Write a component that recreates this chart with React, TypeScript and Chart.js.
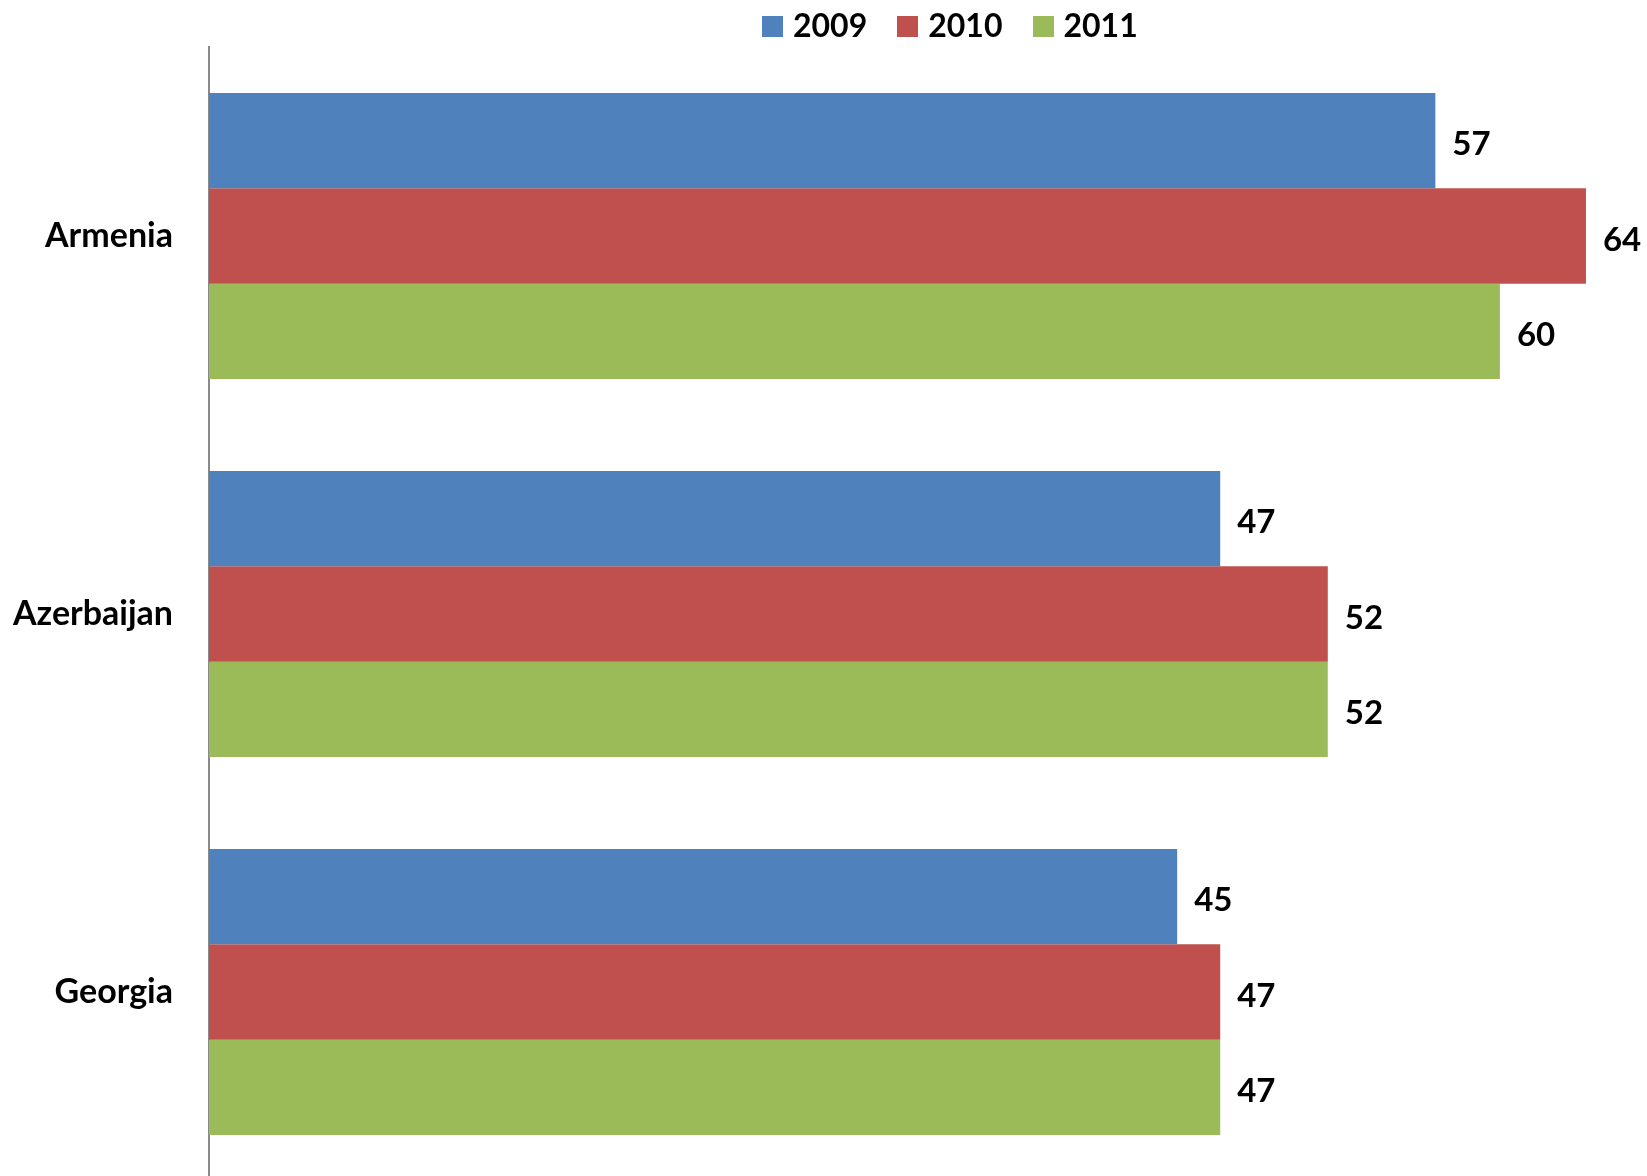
import React, { useEffect, useRef } from "react";
import { Chart, registerables } from "chart.js";

Chart.register(...registerables);

const categories = ["Armenia", "Azerbaijan", "Georgia"];
const seriesLabels = ["2009", "2010", "2011"];
const values2009 = [57, 47, 45];
const values2010 = [64, 52, 47];
const values2011 = [60, 52, 47];
const seriesColors = ["#4F81BD", "#C0504D", "#9BBB59"];
const xMin = 0;
const xMax = 66;

const FONT = "Lato, 'Open Sans', sans-serif";

const valueLabels = {
  id: "valueLabels",
  afterDraw(chart: any) {
    const ctx = chart.ctx;
    ctx.save();
    ctx.font = `bold 33px ${FONT}`;
    ctx.fillStyle = "#000";
    ctx.textAlign = "left";
    ctx.textBaseline = "middle";
    chart.data.datasets.forEach((ds: any, i: number) => {
      const meta = chart.getDatasetMeta(i);
      meta.data.forEach((el: any, j: number) => {
        ctx.fillText(String(ds.data[j]), el.x + 17, el.y + 4);
      });
    });
    ctx.restore();
  },
};

export default function App() {
  const canvasRef = useRef<HTMLCanvasElement | null>(null);

  useEffect(() => {
    let chart: Chart | null = null;
    let cancelled = false;
    const make = () => {
      if (cancelled || !canvasRef.current) return;
      chart = new Chart(canvasRef.current, {
        type: "bar",
        data: {
          labels: categories,
          datasets: [values2009, values2010, values2011].map((d, i) => ({
            label: seriesLabels[i],
            data: d,
            backgroundColor: seriesColors[i],
            borderWidth: 0,
            categoryPercentage: 0.756,
            barPercentage: 1,
          })),
        },
        options: {
          indexAxis: "y",
          responsive: false,
          animation: false,
          layout: { padding: { top: 47, right: 18, bottom: 0, left: 0 } },
          plugins: {
            legend: { display: false },
            tooltip: { enabled: false },
          },
          scales: {
            x: { type: "linear", min: xMin, max: xMax, display: false },
            y: {
              type: "category",
              z: 1,
              grid: { display: false, drawTicks: false },
              border: { display: true, color: "#8a8a8a", width: 2 },
              ticks: {
                color: "#000",
                padding: 36,
                font: { family: FONT, size: 34, weight: "bold" },
              },
              afterFit: (scale: any) => {
                scale.width = 209;
                scale.paddingTop = 0;
                scale.paddingBottom = 0;
              },
            },
          },
        },
        plugins: [valueLabels],
      } as any);
    };
    const fonts: any = (document as any).fonts;
    if (fonts && fonts.load) {
      Promise.all([fonts.load(`bold 32px Lato`), fonts.load(`bold 34px Lato`)]).then(make, make);
    } else {
      make();
    }
    return () => {
      cancelled = true;
      if (chart) chart.destroy();
    };
  }, []);

  return (
    <div
      style={{
        position: "fixed",
        left: 0,
        top: 0,
        width: 1647,
        height: 1176,
        overflow: "hidden",
        background: "#fff",
      }}
    >
      <canvas ref={canvasRef} width={1647} height={1181} style={{ display: "block" }} />
      <div
        style={{
          position: "absolute",
          left: 762,
          top: 6,
          display: "flex",
          alignItems: "center",
          fontFamily: FONT,
          fontWeight: "bold",
          fontSize: 32,
          lineHeight: "38px",
          color: "#000",
        }}
      >
        {seriesLabels.map((s, i) => (
          <div
            key={s}
            style={{ display: "flex", alignItems: "center", marginRight: i < seriesLabels.length - 1 ? 30 : 0 }}
          >
            <span
              style={{
                display: "inline-block",
                width: 21,
                height: 21,
                background: seriesColors[i],
                marginRight: 10,
                position: "relative",
                top: 1,
              }}
            />
            <span>{s}</span>
          </div>
        ))}
      </div>
    </div>
  );
}
